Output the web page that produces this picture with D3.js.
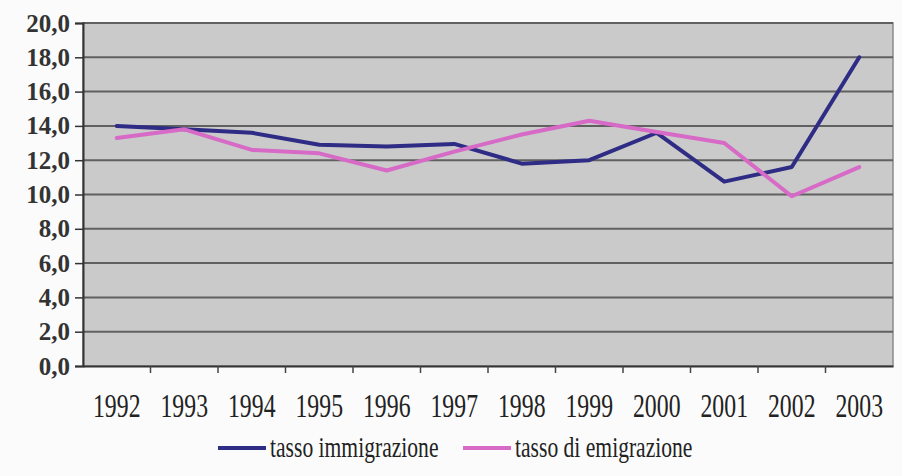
<!DOCTYPE html>
<html>
<head>
<meta charset="utf-8">
<script src="https://cdn.jsdelivr.net/npm/d3@7"></script>
<style>
html,body{margin:0;padding:0;background:#fbfbfb;}
svg{display:block;}
</style>
</head>
<body>
<svg id="chart" width="902" height="476"></svg>
<script>
const years = ["1992","1993","1994","1995","1996","1997","1998","1999","2000","2001","2002","2003"];
const immigrazione = [14.0, 13.8, 13.6, 12.9, 12.8, 12.95, 11.8, 12.0, 13.6, 10.75, 11.6, 18.0];
const emigrazione = [13.3, 13.8, 12.6, 12.4, 11.4, 12.5, 13.5, 14.3, 13.65, 13.0, 9.9, 11.6];
const yTicks = [0, 2, 4, 6, 8, 10, 12, 14, 16, 18, 20];
const seriesNames = ["tasso immigrazione", "tasso di emigrazione"];
const seriesColors = ["#2f2c85", "#d66ac6"];

(function () {
const svg = d3.select("#chart");
const pL = 83, pR = 893, pT = 23, pB = 366;

const x = d3.scaleBand().domain(years).range([pL, pR]);
const y = d3.scaleLinear().domain([0, 20]).range([pB, pT]);

// plot background
svg.append("rect").attr("x", pL).attr("y", pT).attr("width", pR - pL).attr("height", pB - pT)
  .attr("fill", "#cacaca").attr("stroke", "#8a8a8a").attr("stroke-width", 1.5);

// gridlines
svg.append("g").selectAll("line").data(yTicks.filter(d => d > 0)).join("line")
  .attr("x1", pL).attr("x2", pR)
  .attr("y1", d => y(d)).attr("y2", d => y(d))
  .attr("stroke", "#606060").attr("stroke-width", 2);

// y axis
const yAxis = svg.append("g").attr("transform", `translate(${pL},0)`)
  .call(d3.axisLeft(y).tickValues(yTicks).tickSize(8).tickPadding(6)
    .tickFormat(d => d3.format(".1f")(d).replace(".", ",")));
yAxis.select(".domain").attr("stroke", "#333").attr("stroke-width", 2);
yAxis.selectAll(".tick line").attr("stroke", "#333").attr("stroke-width", 1.5);
yAxis.selectAll("text").attr("font-family", "'Liberation Serif', serif")
  .attr("font-size", 25).attr("font-weight", "bold").attr("fill", "#333").attr("x", -13);

// x axis
const xAxis = svg.append("g").attr("transform", `translate(0,${pB})`)
  .call(d3.axisBottom(x).tickSize(0).tickFormat(""));
xAxis.select(".domain").attr("stroke", "#333").attr("stroke-width", 2);
// tick marks between categories
svg.append("g").selectAll("line").data(years.slice(1)).join("line")
  .attr("x1", d => x(d)).attr("x2", d => x(d))
  .attr("y1", pB).attr("y2", pB + 7)
  .attr("stroke", "#444").attr("stroke-width", 1.5);
// x labels (condensed serif)
svg.append("g").selectAll("text").data(years).join("text")
  .attr("transform", d => `translate(${x(d) + x.bandwidth() / 2},417) scale(0.72,1)`)
  .attr("text-anchor", "middle")
  .attr("font-family", "'Liberation Serif', serif")
  .attr("font-size", 33).attr("fill", "#222")
  .text(d => d);

// lines
const line = d3.line().x((d, i) => x(years[i]) + x.bandwidth() / 2).y(d => y(d));
[immigrazione, emigrazione].forEach((s, k) => {
  svg.append("path").datum(s).attr("d", line)
    .attr("fill", "none").attr("stroke", seriesColors[k]).attr("stroke-width", 4)
    .attr("stroke-linejoin", "round").attr("stroke-linecap", "round");
});

// legend
const legendX = [218, 463];
seriesNames.forEach((name, k) => {
  const g = svg.append("g");
  g.append("line").attr("x1", legendX[k]).attr("x2", legendX[k] + 48)
    .attr("y1", 448).attr("y2", 448)
    .attr("stroke", seriesColors[k]).attr("stroke-width", 4);
  g.append("text")
    .attr("transform", `translate(${legendX[k] + 52},457) scale(0.72,1)`)
    .attr("font-family", "'Liberation Serif', serif")
    .attr("font-size", 30).attr("fill", "#222")
    .text(name);
});
})();
</script>
</body>
</html>
